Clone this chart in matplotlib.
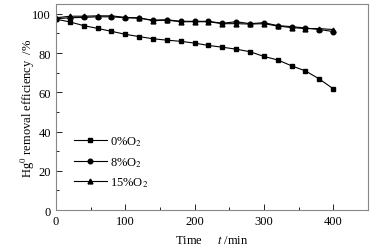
import matplotlib
matplotlib.use("Agg")
import matplotlib.pyplot as plt
from matplotlib.ticker import MultipleLocator

plt.rcParams['font.family'] = ['Liberation Serif', 'DejaVu Serif']
plt.rcParams['mathtext.fontset'] = 'stix'

time = [0, 20, 40, 60, 80, 100, 120, 140, 160, 180, 200, 220, 240, 260, 280, 300, 320, 340, 360, 380, 400]
o2_0 = [97.3, 95.9, 94.0, 92.6, 91.1, 89.6, 88.4, 87.3, 86.6, 86.0, 85.1, 83.9, 83.0, 82.0, 80.7, 78.3, 76.5, 73.5, 70.9, 66.8, 61.8]
o2_8 = [97.5, 98.0, 98.2, 98.5, 98.5, 98.0, 97.8, 96.8, 97.0, 96.2, 96.2, 96.2, 95.2, 96.0, 95.0, 95.5, 94.0, 93.5, 92.8, 92.0, 91.0]
o2_15 = [98.0, 98.8, 98.8, 99.0, 99.0, 98.2, 98.0, 96.5, 96.8, 96.0, 96.0, 96.0, 95.0, 95.0, 94.8, 95.0, 93.8, 93.0, 92.5, 92.5, 92.0]
labels = ['0%O$_2$', '8%O$_2$', '15%O$_2$']

fig = plt.figure(figsize=(3.86, 2.53), dpi=100)
ax = fig.add_axes([0.145, 0.166, 0.808, 0.814])

ax.plot(time, o2_0, color='black', marker='s', markersize=3.0, linewidth=0.8, label=labels[0])
ax.plot(time, o2_8, color='black', marker='o', markersize=3.3, linewidth=0.8, label=labels[1])
ax.plot(time, o2_15, color='black', marker='^', markersize=3.5, linewidth=0.8, label=labels[2])

ax.set_xlim(0, 450)
ax.set_ylim(0, 105)
ax.xaxis.set_major_locator(MultipleLocator(100))
ax.xaxis.set_minor_locator(MultipleLocator(50))
ax.yaxis.set_major_locator(MultipleLocator(20))
ax.yaxis.set_minor_locator(MultipleLocator(10))
ax.tick_params(which='both', direction='in', labelsize=9, colors='black', width=0.6)
ax.tick_params(which='major', length=4)
ax.tick_params(which='minor', length=2.5)
for s in ax.spines.values():
    s.set_color('#888888')
    s.set_linewidth(0.8)

ax.set_xlabel('Time     $t$ /min', fontsize=9, labelpad=5)
ax.set_ylabel('Hg$^0$ removal efficiency  /%', fontsize=9, labelpad=-3)

leg = ax.legend(loc='upper left', bbox_to_anchor=(0.03, 0.41), frameon=False, fontsize=9,
                handlelength=2.6, handletextpad=0.3, labelspacing=0.55, borderpad=0.2)

fig.savefig('out.png', dpi=100)
